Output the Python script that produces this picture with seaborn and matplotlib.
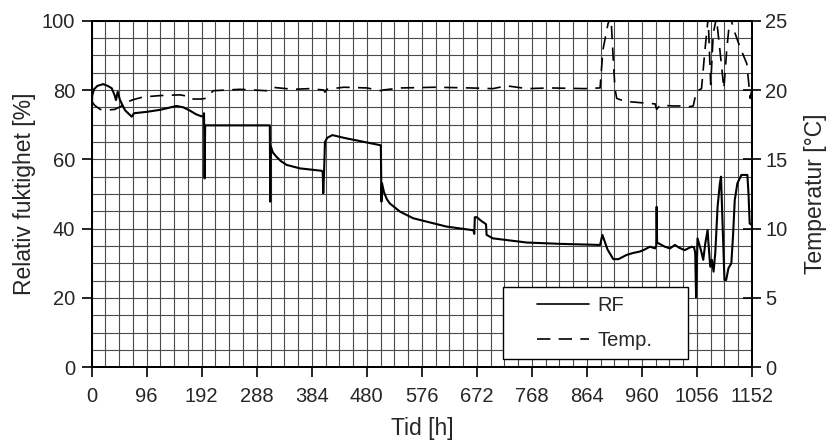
import numpy as np
import pandas as pd
import seaborn as sns
import matplotlib
matplotlib.use("Agg")
import matplotlib.pyplot as plt
from matplotlib.lines import Line2D
from matplotlib.patches import Rectangle
from matplotlib.ticker import MultipleLocator

# Relative humidity (RF) over time
rf_time = [0, 1, 4, 10, 20, 28, 35, 40, 42.4, 45.4, 49.4, 58, 69.8, 73.8, 96, 120, 148,
           160, 172, 182, 190, 195, 196, 197, 198, 200.6, 310, 310.8, 311.6, 312.6, 316,
           322, 330, 340, 363, 401, 403, 404, 405.5, 407, 411, 420, 440, 470, 503, 504.5,
           505.5, 506.5, 510, 515, 520, 538, 561, 590, 619, 663, 666, 667.5, 668.5, 672,
           680, 688, 689, 700, 759, 820, 887, 891, 900, 910, 919, 933, 945, 956.6, 965,
           974, 983, 985, 985.7, 986.5, 988.5, 1000, 1009, 1017.6, 1025, 1034.6, 1046.6,
           1051, 1053, 1054.5, 1057, 1063, 1067, 1070.6, 1074.6, 1076, 1079.3, 1082, 1085,
           1088, 1092, 1096, 1098, 1101, 1104, 1107, 1111, 1116, 1119, 1122, 1126.6,
           1133.6, 1144, 1146, 1148, 1152]
rf_value = [74, 78.5, 80.2, 81.2, 81.7, 81.2, 80.5, 78.5, 77.1, 79.5, 77.1, 74.2, 72.3,
            73.3, 73.7, 74.3, 75.4, 75.0, 74.0, 73.0, 72.5, 72.3, 73.3, 54.5, 69.8, 69.8,
            69.8, 69.8, 47.8, 63.7, 62.0, 60.8, 59.5, 58.4, 57.4, 56.7, 56.5, 50.2, 56.5,
            65.0, 66.2, 67.0, 66.2, 65.2, 64.1, 64.0, 47.8, 53.1, 50.5, 48.5, 47.3, 44.9,
            43.0, 41.8, 40.6, 39.6, 39.6, 38.5, 43.3, 43.3, 42.2, 41.3, 38.2, 37.2, 36.0,
            35.6, 35.3, 38.2, 34.0, 31.2, 31.2, 32.4, 33.0, 33.4, 34.0, 34.8, 34.3, 35.0,
            46.3, 36.0, 35.8, 34.8, 34.3, 35.3, 34.5, 33.8, 34.8, 34.6, 33.0, 20.2, 37.2,
            33.8, 31.0, 35.8, 39.6, 36.0, 29.0, 31.0, 27.6, 33.0, 46.3, 53.0, 55.0, 40.0,
            25.2, 25.2, 28.6, 30.0, 38.0, 48.3, 53.1, 55.5, 55.5, 50.0, 41.5, 41.0]

# Temperature over time
temp_time = [0, 5, 15, 25, 40, 50, 60, 72, 90, 120, 154, 168, 174, 190, 200, 212, 259,
             305, 314, 352, 380, 405, 407, 410, 440, 480, 505, 508, 540, 600, 660, 700,
             724, 760, 800, 860, 887, 892, 901, 906, 910, 913, 916, 922, 940, 968, 983,
             985.7, 991.5, 1014.6, 1030, 1043, 1049.6, 1055, 1064, 1070, 1075.6, 1080,
             1084.5, 1090, 1096, 1103, 1108, 1113.7, 1122.5, 1131, 1143, 1149, 1152]
temp_value = [19.2, 18.9, 18.6, 18.55, 18.6, 18.8, 19.1, 19.3, 19.5, 19.6, 19.65, 19.55,
              19.35, 19.35, 19.4, 19.95, 20.05, 19.95, 20.2, 20.05, 20.1, 20.0, 19.85,
              20.05, 20.2, 20.15, 19.95, 20.0, 20.15, 20.2, 20.15, 20.1, 20.3, 20.1, 20.15,
              20.1, 20.15, 22.9, 24.8, 25.3, 22.2, 20.1, 19.4, 19.3, 19.15, 19.05, 19.0,
              18.6, 18.9, 18.85, 18.85, 18.8, 18.85, 19.9, 20.1, 22.9, 25.2, 20.4, 24.1,
              25.2, 22.9, 20.1, 22.9, 25.3, 24.1, 23.1, 21.9, 19.4, 20.1]

x_ticks = list(range(0, 1153, 96))
rf_ticks = [0, 20, 40, 60, 80, 100]
temp_ticks = [0, 5, 10, 15, 20, 25]
legend_labels = ["RF", "Temp."]

rf_df = pd.DataFrame({"Tid": rf_time, "RF": rf_value})
temp_df = pd.DataFrame({"Tid": temp_time, "Temp": temp_value})

sns.set_theme(style="white")
plt.rcParams["font.family"] = ["Liberation Sans", "DejaVu Sans"]
plt.rcParams["axes.edgecolor"] = "black"
plt.rcParams["axes.linewidth"] = 1.3

TICK_FS = 14.5
LABEL_FS = 16.5
DASH = [8, 5]

fig = plt.figure(figsize=(8.32, 4.45), dpi=100)
ax = fig.add_axes([0.1102, 0.1746, 0.7936, 0.7789])

grid_kw = dict(color="#4a4a4a", linewidth=0.8)
ax.xaxis.set_minor_locator(MultipleLocator(24))
ax.yaxis.set_minor_locator(MultipleLocator(5))
ax.grid(True, which="both", **grid_kw)
ax.set_axisbelow(True)

sns.lineplot(data=rf_df, x="Tid", y="RF", ax=ax, color="black", linewidth=1.5,
             estimator=None, sort=False)
ax.set_xlim(0, 1152)
ax.set_ylim(0, 100)
ax.set_xticks(x_ticks)
ax.set_yticks(rf_ticks)
ax.tick_params(which="major", direction="out", length=7, width=1.2, color="black",
               labelsize=TICK_FS, bottom=True, left=True)
ax.tick_params(axis="x", pad=7)
ax.tick_params(axis="y", pad=5)
ax.tick_params(which="minor", length=0)
ax.set_xlabel("Tid [h]", fontsize=LABEL_FS, labelpad=8)
ax.set_ylabel("Relativ fuktighet [%]", fontsize=LABEL_FS, labelpad=4)

ax2 = ax.twinx()
sns.lineplot(data=temp_df, x="Tid", y="Temp", ax=ax2, color="black", linewidth=1.2,
             estimator=None, sort=False)
ax2.lines[0].set_dashes(DASH)
ax2.set_ylim(0, 25)
ax2.set_yticks(temp_ticks)
ax2.tick_params(axis="y", direction="inout", length=13, width=1.2, color="black",
                labelsize=TICK_FS, pad=3, right=True)
ax2.set_ylabel("Temperatur [°C]", fontsize=LABEL_FS, labelpad=12)
ax2.grid(False)
for s in ax2.spines.values():
    s.set_linewidth(1.3)

# Legend box
box = Rectangle((0.623, 0.024), 0.28, 0.208, transform=ax.transAxes,
                facecolor="white", edgecolor="black", linewidth=1.0, zorder=5)
ax2.add_patch(box)
handles = [Line2D([], [], color="black", linewidth=1.2),
           Line2D([], [], color="black", linewidth=1.2, dashes=DASH)]
leg = ax2.legend(handles, legend_labels, loc="center", bbox_to_anchor=(0.762, 0.128),
                 bbox_transform=ax.transAxes, frameon=False, fontsize=TICK_FS,
                 handlelength=2.6, handletextpad=0.4, labelspacing=0.8)
leg.set_zorder(6)

fig.savefig("out.png", dpi=100)
